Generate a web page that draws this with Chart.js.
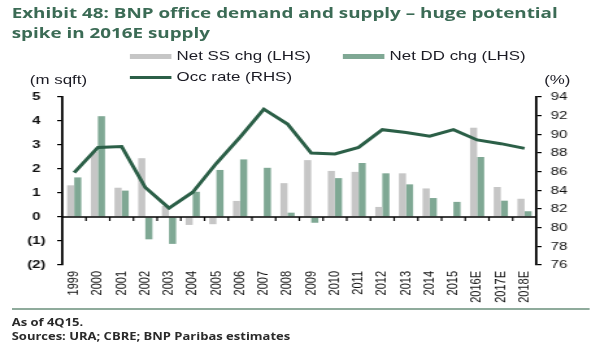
<!DOCTYPE html>
<html>
<head>
<meta charset="utf-8">
<script src="https://cdn.jsdelivr.net/npm/chart.js@4.4.1/dist/chart.umd.min.js"></script>
<style>
  html, body { margin: 0; padding: 0; background: #fff; }
  body { width: 600px; height: 360px; overflow: hidden; }
  /* the reference is horizontally stretched, so draw narrow and stretch */
  #wrap { position: relative; width: 462px; height: 360px; transform: scaleX(1.2987); transform-origin: 0 0; }
  #chart { position: absolute; left: 0; top: 0; }
  .title { position: absolute; left: 9px; font: bold 14.5px "Open Sans", sans-serif; color: #3b6b55; white-space: nowrap; }
  .lab { position: absolute; font: 13px "Liberation Sans", Arial, sans-serif; color: #1b1b24; white-space: nowrap; }
  .sw { position: absolute; height: 5px; width: 32px; }
  .foot { position: absolute; left: 9px; font: bold 10px "Open Sans", sans-serif; color: #2a2a2a; white-space: nowrap; }
  #sep { position: absolute; left: 9px; width: 445px; top: 308px; height: 2px; background: #8fab9c; }
</style>
</head>
<body>
<div id="wrap">
  <canvas id="chart" width="462" height="360" style="width:462px;height:360px"></canvas>
  <div class="title" style="top:3px">Exhibit 48: BNP office demand and supply – huge potential</div>
  <div class="title" style="top:23px">spike in 2016E supply</div>
  <div id="legend"></div>
  <div class="lab" style="left:23px;top:72px">(m sqft)</div>
  <div class="lab" style="left:419px;top:72px">(%)</div>
  <div id="sep"></div>
  <div class="foot" style="top:315px">As of 4Q15.</div>
  <div class="foot" style="top:329px">Sources: URA; CBRE; BNP Paribas estimates</div>
</div>
<script>
// data
const categories = ['1999', '2000', '2001', '2002', '2003', '2004', '2005', '2006', '2007', '2008',
  '2009', '2010', '2011', '2012', '2013', '2014', '2015', '2016E', '2017E', '2018E'];
const netSS = [1.32, 2.72, 1.22, 2.45, 0.46, -0.33, -0.30, 0.67, -0.02, 1.41,
  2.37, 1.92, 1.88, 0.42, 1.82, 1.19, 0, 3.72, 1.25, 0.76];
const netDD = [1.65, 4.2, 1.1, -0.93, -1.12, 1.05, 1.96, 2.4, 2.05, 0.18,
  -0.24, 1.62, 2.25, 1.82, 1.36, 0.79, 0.63, 2.5, 0.68, 0.24];
const occRate = [85.9, 88.6, 88.7, 84.3, 82.1, 83.8, 86.9, 89.7, 92.7, 91.1,
  88.0, 87.9, 88.6, 90.5, 90.2, 89.8, 90.5, 89.4, 89.0, 88.5];
const seriesNames = ['Net SS chg (LHS)', 'Net DD chg (LHS)', 'Occ rate (RHS)'];
const leftTicks = [-2, -1, 0, 1, 2, 3, 4, 5];
const rightTicks = [76, 78, 80, 82, 84, 86, 88, 90, 92, 94];

const colSS = '#c6c6c6';
const colDD = '#7fa894';
const colOcc = '#2b5f47';

// zero axis with category ticks
const zeroLine = {
  id: 'zeroLine',
  afterDatasetsDraw(chart) {
    const ctx = chart.ctx;
    const a = chart.chartArea;
    const y0 = chart.scales.y.getPixelForValue(0);
    const n = categories.length;
    const w = (a.right - a.left) / n;
    ctx.save();
    ctx.strokeStyle = '#000';
    ctx.lineWidth = 1.5;
    ctx.beginPath();
    ctx.moveTo(a.left, y0);
    ctx.lineTo(a.right, y0);
    ctx.stroke();
    ctx.lineWidth = 1.2;
    for (let i = 1; i < n; i++) {
      const x = a.left + i * w;
      ctx.beginPath();
      ctx.moveTo(x, y0);
      ctx.lineTo(x, y0 + 4);
      ctx.stroke();
    }
    ctx.restore();
  }
};

const chart = new Chart(document.getElementById('chart'), {
  type: 'bar',
  data: {
    labels: categories,
    datasets: [
      { type: 'line', label: seriesNames[2], data: occRate, yAxisID: 'y2', borderColor: colOcc,
        borderWidth: 3, pointRadius: 0, tension: 0, order: 0 },
      { label: seriesNames[0], data: netSS, yAxisID: 'y', backgroundColor: colSS, order: 1 },
      { label: seriesNames[1], data: netDD, yAxisID: 'y', backgroundColor: colDD, order: 1 }
    ]
  },
  options: {
    responsive: false,
    animation: false,
    layout: { padding: { top: 97, left: 0, right: 0, bottom: 0 } },
    datasets: { bar: { barPercentage: 1.0, categoryPercentage: 0.6 } },
    plugins: { legend: { display: false }, tooltip: { enabled: false } },
    scales: {
      x: {
        grid: { display: false, drawTicks: false },
        border: { display: false },
        ticks: { autoSkip: false, minRotation: 90, maxRotation: 90, padding: 6,
          color: '#111', font: { family: 'Liberation Sans', size: 11 } },
        afterFit(s) { s.height = 95; }
      },
      y: {
        position: 'left', min: -2, max: 5,
        afterBuildTicks(s) { s.ticks = leftTicks.map(v => ({ value: v })); },
        grid: { drawOnChartArea: false, tickLength: 4, color: '#000', lineWidth: 1.2 },
        border: { color: '#000', width: 1.8 },
        ticks: { color: '#111', padding: 9, crossAlign: 'center',
          font: { family: 'Liberation Sans', size: 11.5, weight: 'bold' },
          callback: v => v < 0 ? '(' + (-v) + ')' : String(v) },
        afterFit(s) { s.width = 48; }
      },
      y2: {
        position: 'right', min: 76, max: 94,
        afterBuildTicks(s) { s.ticks = rightTicks.map(v => ({ value: v })); },
        grid: { drawOnChartArea: false, tickLength: 4, color: '#000', lineWidth: 1.2 },
        border: { color: '#000', width: 1.8 },
        ticks: { color: '#111', padding: 7, font: { family: 'Liberation Sans', size: 11.5 } },
        afterFit(s) { s.width = 49; }
      }
    }
  },
  plugins: [zeroLine]
});

// legend built from the chart datasets
const legend = document.getElementById('legend');
const legendPos = [[100, 56], [264, 56], [100, 77]];
[1, 2, 0].forEach((di, k) => {
  const ds = chart.data.datasets[di];
  const [lx, ly] = legendPos[k];
  const sw = document.createElement('div');
  sw.className = 'sw';
  sw.style.left = lx + 'px';
  if (ds.type === 'line') {
    sw.style.top = (ly - 1.5) + 'px';
    sw.style.height = '3px';
    sw.style.background = ds.borderColor;
  } else {
    sw.style.top = (ly - 2.5) + 'px';
    sw.style.background = ds.backgroundColor;
  }
  const t = document.createElement('div');
  t.className = 'lab';
  t.style.left = (lx + 36) + 'px';
  t.style.top = (ly - 8) + 'px';
  t.textContent = ds.label;
  legend.appendChild(sw);
  legend.appendChild(t);
});
</script>
</body>
</html>
